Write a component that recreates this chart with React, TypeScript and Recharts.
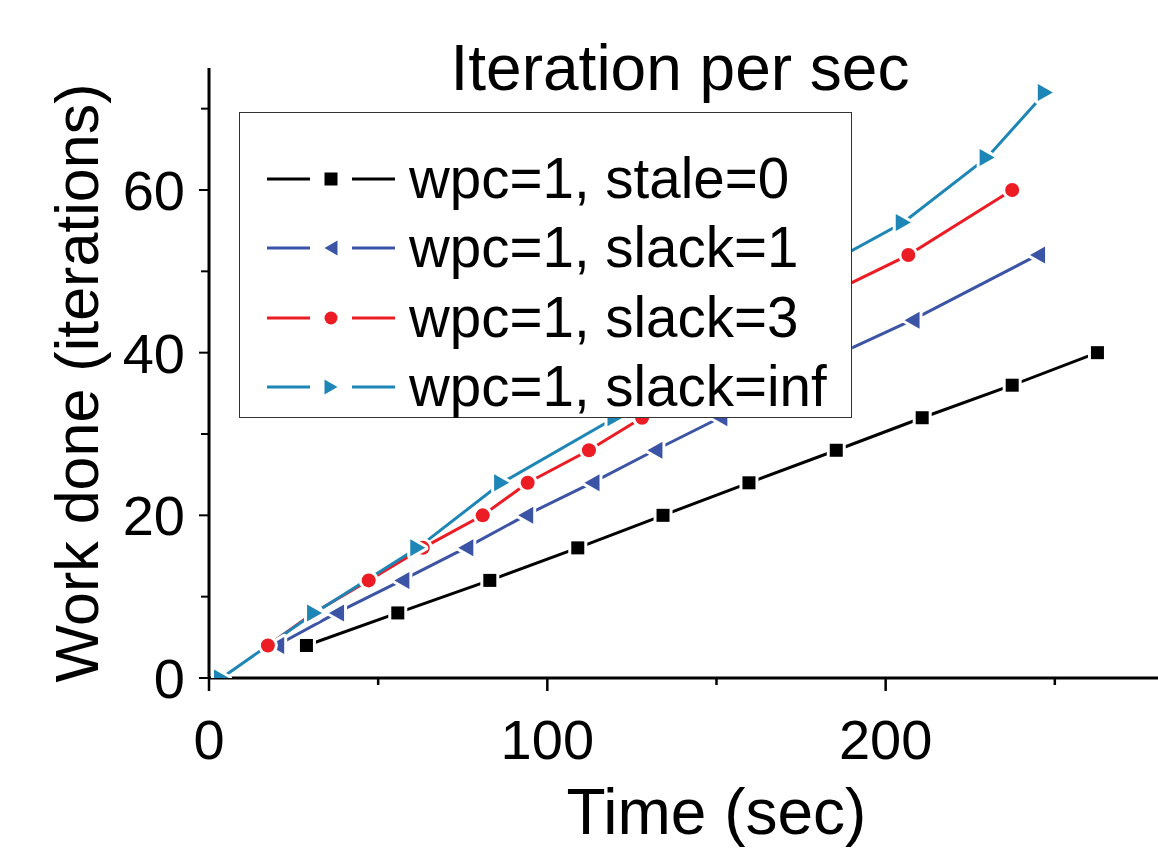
import { Legend, Line, LineChart, XAxis, YAxis } from "recharts";

// wpc=1, stale=0
const staleTime = [28.8, 55.8, 83.0, 109.0, 134.2, 159.6, 185.4, 210.8, 237.4, 262.6];
const staleWork = [4, 8, 12, 16, 20, 24, 28, 32, 36, 40];
// wpc=1, slack=1
const slack1Time = [20.0, 37.7, 57.0, 75.9, 93.6, 113.2, 131.8, 151.0, 169.0, 187.0, 207.8, 244.9];
const slack1Work = [4, 8, 12, 16, 20, 24, 28, 32, 36, 40, 44, 52];
// wpc=1, slack=3
const slack3Time = [17.4, 30.9, 47.2, 63.2, 80.9, 94.2, 112.3, 128.0, 143.0, 158.0, 172.5, 187.0, 206.7, 237.4];
const slack3Work = [4, 8, 12, 16, 20, 24, 28, 32, 36, 40, 44, 48, 52, 60];
// wpc=1, slack=inf
const slackInfTime = [3.7, 31.2, 61.7, 86.5, 120.0, 145.0, 170.0, 205.2, 230.0, 247.2];
const slackInfWork = [0, 8, 16, 24, 32, 40, 48, 56, 64, 72];

const xTicks = [0, 50, 100, 150, 200, 250];
const yTicks = [0, 10, 20, 30, 40, 50, 60, 70];

const FONT = "'Liberation Sans', Arial, Helvetica, sans-serif";

type Pt = { t: number; w: number };
type Shape = "square" | "left" | "circle" | "right";

const zip = (ts: number[], ws: number[]): Pt[] => ts.map((t, i) => ({ t, w: ws[i] }));

const series: { name: string; color: string; shape: Shape; data: Pt[] }[] = [
  { name: "wpc=1, stale=0", color: "#000000", shape: "square", data: zip(staleTime, staleWork) },
  { name: "wpc=1, slack=1", color: "#3b54a5", shape: "left", data: zip(slack1Time, slack1Work) },
  { name: "wpc=1, slack=3", color: "#ec1c24", shape: "circle", data: zip(slack3Time, slack3Work) },
  { name: "wpc=1, slack=inf", color: "#1d86b6", shape: "right", data: zip(slackInfTime, slackInfWork) },
];

function Marker({ shape, cx, cy, size, color, outline }: { shape: Shape; cx: number; cy: number; size: number; color: string; outline: boolean }) {
  const h = size / 2;
  const pts =
    shape === "left"
      ? `${cx - h},${cy} ${cx + h},${cy - h - 1} ${cx + h},${cy + h + 1}`
      : `${cx + h},${cy} ${cx - h},${cy - h - 1} ${cx - h},${cy + h + 1}`;
  const draw = (fill: string, stroke: string, sw: number) => {
    if (shape === "square")
      return <rect x={cx - h} y={cy - h} width={size} height={size} fill={fill} stroke={stroke} strokeWidth={sw} />;
    if (shape === "circle") return <circle cx={cx} cy={cy} r={h} fill={fill} stroke={stroke} strokeWidth={sw} />;
    return <polygon points={pts} fill={fill} stroke={stroke} strokeWidth={sw} strokeLinejoin="round" />;
  };
  return (
    <g>
      {outline && draw("#ffffff", "#ffffff", 6)}
      {draw(color, "none", 0)}
    </g>
  );
}

function XTick(props: any) {
  const { x, y, payload } = props;
  const major = payload.value % 100 === 0;
  return (
    <g>
      <line x1={x} x2={x} y1={y} y2={y + (major ? 13 : 7)} stroke="#000" strokeWidth={2.5} />
      {major && (
        <text x={x} y={y + 81} textAnchor="middle" fontSize={56} fontFamily={FONT} fill="#000">
          {payload.value}
        </text>
      )}
    </g>
  );
}

function YTick(props: any) {
  const { x, y, payload } = props;
  const major = payload.value % 20 === 0;
  return (
    <g>
      <line x1={x} x2={x - (major ? 10 : 8)} y1={y} y2={y} stroke="#000" strokeWidth={2} />
      {major && (
        <text x={x - 24} y={y + 20} textAnchor="end" fontSize={56} fontFamily={FONT} fill="#000">
          {payload.value}
        </text>
      )}
    </g>
  );
}

function LegendBox() {
  return (
    <div
      style={{
        width: 613,
        height: 306,
        background: "#fff",
        border: "1.5px solid #333",
        boxSizing: "border-box",
        position: "relative",
        fontFamily: FONT,
      }}
    >
      {series.map((s, i) => (
        <div
          key={s.name}
          style={{ position: "absolute", left: 0, top: 30.5 + i * 69.5, height: 70, display: "flex", alignItems: "center" }}
        >
          <svg width={169} height={70} style={{ display: "block" }}>
            <line x1={27} x2={70} y1={35} y2={35} stroke={s.color} strokeWidth={3} />
            <Marker shape={s.shape} cx={91} cy={35} size={13} color={s.color} outline={false} />
            <line x1={112} x2={155} y1={35} y2={35} stroke={s.color} strokeWidth={3} />
          </svg>
          <span style={{ fontSize: 56.5, lineHeight: "70px", color: "#000", whiteSpace: "nowrap" }}>{s.name}</span>
        </div>
      ))}
    </div>
  );
}

export default function App() {
  return (
    <div style={{ position: "absolute", left: 0, top: 0, width: 1158, height: 848, background: "#fff", fontFamily: FONT }}>
      <div
        style={{
          position: "absolute",
          left: 380,
          width: 600,
          top: 36,
          textAlign: "center",
          fontSize: 64,
          lineHeight: "64px",
          zIndex: 2,
        }}
      >
        Iteration per sec
      </div>
      <LineChart width={1158} height={848} margin={{ top: 68, right: 0, bottom: 70, left: 0 }}>
        <XAxis
          type="number"
          dataKey="t"
          domain={[0, 280.5]}
          ticks={xTicks}
          interval={0}
          allowDataOverflow
          height={100}
          tickSize={0}
          tickMargin={0}
          tickLine={false}
          axisLine={{ stroke: "#000", strokeWidth: 3 }}
          tick={XTick}
          label={{
            content: (p: any) => (
              <text
                x={p.viewBox.x + p.viewBox.width / 2 + 33}
                y={p.viewBox.y + 156}
                textAnchor="middle"
                fontSize={64}
                fontFamily={FONT}
                fill="#000"
              >
                Time (sec)
              </text>
            ),
          }}
        />
        <YAxis
          type="number"
          dataKey="w"
          domain={[0, 75]}
          ticks={yTicks}
          interval={0}
          allowDataOverflow
          width={209}
          tickSize={0}
          tickMargin={0}
          tickLine={false}
          axisLine={{ stroke: "#000", strokeWidth: 3 }}
          tick={YTick}
          label={{
            content: (p: any) => {
              const cy = p.viewBox.y + p.viewBox.height / 2 + 10;
              return (
                <text
                  x={98}
                  y={cy}
                  transform={`rotate(-90, 98, ${cy})`}
                  textAnchor="middle"
                  fontSize={61}
                  fontFamily={FONT}
                  fill="#000"
                >
                  Work done (iterations)
                </text>
              );
            },
          }}
        />
        {series.map((s) => (
          <Line
            key={s.name}
            name={s.name}
            data={s.data}
            dataKey="w"
            type="linear"
            stroke={s.color}
            strokeWidth={3}
            isAnimationActive={false}
            activeDot={false}
            dot={(p: any) => (
              <Marker
                key={`${s.shape}-${p.index}`}
                shape={s.shape}
                cx={p.cx}
                cy={p.cy}
                size={s.shape === "square" ? 13 : s.shape === "circle" ? 14 : 15}
                color={s.color}
                outline
              />
            )}
          />
        ))}
        <Legend
          layout="vertical"
          align="center"
          verticalAlign="middle"
          content={() => <LegendBox />}
          wrapperStyle={{ left: 239, top: 112, width: 613, height: 306 }}
        />
      </LineChart>
    </div>
  );
}
